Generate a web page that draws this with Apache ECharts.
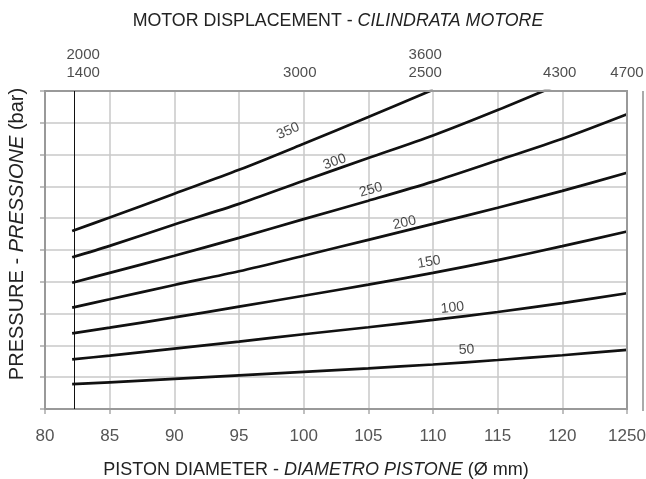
<!DOCTYPE html>
<html>
<head>
<meta charset="utf-8">
<script src="https://cdn.jsdelivr.net/npm/echarts@6/dist/echarts.min.js"></script>
<style>
  html, body { margin: 0; padding: 0; background: #fff; }
  #main { width: 646px; height: 479px; }
</style>
</head>
<body>
<div id="main"></div>
<script>
// piston diameter (mm) where the curves were read
var diameters = [82.1, 85, 90, 95, 100, 105, 110, 115, 120, 125];
// curves (grid units, 0..10), one per pressure
var p350 = [5.60, 6.02, 6.77, 7.52, 8.34, 9.18, 10.04, null, null, null];
var p300 = [4.77, 5.13, 5.80, 6.45, 7.18, 7.89, 8.60, 9.40, 10.25, null];
var p250 = [3.97, 4.28, 4.82, 5.38, 5.97, 6.55, 7.15, 7.82, 8.50, 9.27];
var p200 = [3.19, 3.45, 3.90, 4.33, 4.82, 5.32, 5.82, 6.33, 6.86, 7.43];
var p150 = [2.38, 2.56, 2.88, 3.22, 3.56, 3.91, 4.28, 4.68, 5.12, 5.58];
var p100 = [1.56, 1.68, 1.90, 2.12, 2.35, 2.57, 2.80, 3.05, 3.33, 3.64];
var p50  = [0.78, 0.84, 0.95, 1.06, 1.17, 1.28, 1.40, 1.54, 1.69, 1.86];
var curves = [p350, p300, p250, p200, p150, p100, p50];

// pressure labels written along the curves
var labelText = ['350', '300', '250', '200', '150', '100', '50'];
var labelX = [98.8, 102.4, 105.2, 107.8, 109.7, 111.5, 112.6];
var labelY = [8.74, 7.77, 6.89, 5.85, 4.62, 3.18, 1.86];
var labelRot = [24, 20, 16, 13, 10, 6, 3];

// displacement values printed above the frame
var topX = [82.95, 99.7, 109.4, 119.8, 125];
var topText = ['2000\n1400', '3000', '3600\n2500', '4300', '4700'];

var startLine = 82.25; // thin vertical line where curves begin

var chart = echarts.init(document.getElementById('main'));

function richStyle(size) {
    return {
        n: { fontSize: size, color: '#222', fontWeight: 'normal', fontFamily: 'Liberation Sans' },
        i: { fontSize: size, color: '#222', fontWeight: 'normal', fontStyle: 'italic', fontFamily: 'Liberation Sans' }
    };
}

var series = [];
for (var i = 0; i < curves.length; i++) {
    var pts = [];
    for (var j = 0; j < diameters.length; j++) {
        if (curves[i][j] !== null) pts.push([diameters[j], curves[i][j]]);
    }
    series.push({
        type: 'line',
        data: pts,
        smooth: 0.3,
        symbol: 'none',
        clip: true,
        lineStyle: { color: '#111', width: 2.7 },
        silent: true,
        z: 3
    });
}
// vertical start line
series[0].markLine = {
    silent: true,
    symbol: 'none',
    label: { show: false },
    lineStyle: { color: '#111', width: 1, type: 'solid' },
    data: [{ xAxis: startLine }]
};

var lbl = [];
for (var k = 0; k < labelText.length; k++) {
    lbl.push({
        value: [labelX[k], labelY[k]],
        label: { rotate: labelRot[k], formatter: labelText[k] }
    });
}
series.push({
    type: 'scatter',
    symbolSize: 0,
    data: lbl,
    silent: true,
    label: {
        show: true,
        position: 'inside',
        color: '#1a1a1a',
        fontSize: 14,
        fontFamily: 'Liberation Sans'
    },
    z: 4
});

var tops = [];
for (var t = 0; t < topX.length; t++) {
    tops.push({ value: [topX[t], 10], label: { formatter: topText[t] } });
}
series.push({
    type: 'scatter',
    symbolSize: 0,
    clip: false,
    data: tops,
    silent: true,
    label: {
        show: true,
        position: 'top',
        distance: 9,
        color: '#222',
        fontSize: 15,
        lineHeight: 18,
        fontFamily: 'Liberation Sans'
    }
});

var option = {
    animation: false,
    backgroundColor: '#fff',
    title: {
        left: 333,
        textAlign: 'center',
        top: 7,
        text: '{n|MOTOR DISPLACEMENT - }{i|CILINDRATA MOTORE}',
        textStyle: { rich: richStyle(17.8) }
    },
    grid: { left: 45, right: 19, top: 91, bottom: 70, outerBoundsMode: 'none', containLabel: false },
    xAxis: {
        type: 'value',
        min: 80,
        max: 125,
        interval: 5,
        name: '{n|PISTON DIAMETER - }{i|DIAMETRO PISTONE}{n| (Ø mm)}',
        nameLocation: 'middle',
        nameGap: 52,
        nameTextStyle: { rich: richStyle(18), padding: [0, 40, 0, 0] },
        axisLine: { show: true, lineStyle: { color: '#999', width: 2 } },
        axisTick: { show: true, length: 5, lineStyle: { color: '#aaa', width: 1.5 } },
        axisLabel: {
            color: '#555',
            fontSize: 17,
            margin: 19,
            fontFamily: 'Liberation Sans',
            formatter: function (v) { return v === 125 ? '1250' : String(v); }
        },
        splitLine: { show: true, lineStyle: { color: '#c8c8c8', width: 1.5 } }
    },
    yAxis: {
        type: 'value',
        min: 0,
        max: 10,
        interval: 1,
        name: '{n|PRESSURE - }{i|PRESSIONE}{n| (bar)}',
        nameLocation: 'middle',
        nameRotate: 90,
        nameGap: 18,
        nameTextStyle: { rich: richStyle(20), padding: [0, 0, 0, 32] },
        axisLine: { show: true, lineStyle: { color: '#999', width: 2 } },
        axisTick: { show: true, length: 5, lineStyle: { color: '#aaa', width: 1.5 } },
        axisLabel: { show: false },
        splitLine: { show: true, lineStyle: { color: '#c8c8c8', width: 1.5 } }
    },
    graphic: [
        { type: 'rect', shape: { x: 45, y: 91, width: 582, height: 318 },
          style: { fill: 'none', stroke: '#999', lineWidth: 2 }, z: 5, silent: true },
        { type: 'line', shape: { x1: 643, y1: 91, x2: 643, y2: 411 },
          style: { stroke: '#aaa', lineWidth: 2 }, silent: true }
    ],
    series: series
};

chart.setOption(option);
</script>
</body>
</html>
